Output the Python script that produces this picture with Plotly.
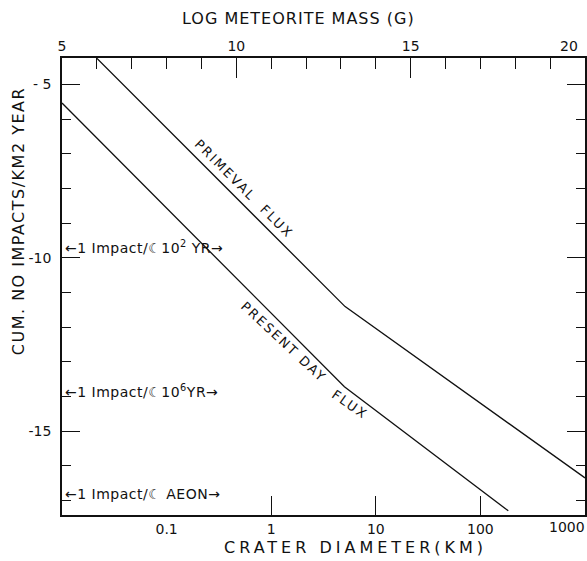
import plotly.graph_objects as go

# ---- data ----
# x values are log meteorite mass (g); y values are log cum. no. impacts / km2 / year
primeval_logm = [6.0, 13.12, 20.0]
primeval_flux = [-4.25, -11.41, -16.35]
present_logm = [5.0, 13.1, 17.8]
present_flux = [-5.54, -13.72, -17.3]

mass_ticks = [5, 10, 15]
mass_ticktext = ["5", "10", "15"]
mass_edge_label = "20"
diam_ticks = [0.1, 1, 10, 100]
diam_ticktext = ["0.1", "1", "10", "100"]
diam_edge_label = "1000"
diam_major = [1, 10, 100]
flux_ticks = [-15, -10, -5]
flux_ticktext = ["-15", "-10", "- 5"]

impact_labels = [
    "←1 Impact/☾10<sup>2</sup> YR→",
    "←1 Impact/☾10<sup>6</sup>YR→",
    "←1 Impact/☾ AEON→",
]
impact_levels = [-9.68, -13.84, -16.81]

X_MASS_RANGE = [5, 20]
X_DIAM_LOGRANGE = [-2.0, 3.0]

FONT = "DejaVu Sans"
INK = "#111111"

fig = go.Figure()
fig.add_trace(go.Scatter(x=primeval_logm, y=primeval_flux, mode="lines",
                         line=dict(color=INK, width=1.3), showlegend=False))
fig.add_trace(go.Scatter(x=present_logm, y=present_flux, mode="lines",
                         line=dict(color=INK, width=1.3), showlegend=False))
# invisible traces to activate the bottom (crater diameter) axes
fig.add_trace(go.Scatter(x=[1], y=[-10], xaxis="x2", mode="markers",
                         marker=dict(opacity=0), showlegend=False, hoverinfo="skip"))
fig.add_trace(go.Scatter(x=[1], y=[-10], xaxis="x3", mode="markers",
                         marker=dict(opacity=0), showlegend=False, hoverinfo="skip"))

axis_common = dict(showgrid=False, zeroline=False, linecolor=INK, tickcolor=INK,
                   automargin=False,
                   tickfont=dict(family=FONT, size=14, color=INK))

fig.update_layout(
    width=587, height=561,
    margin=dict(l=62, r=2, t=58, b=46),
    paper_bgcolor="white", plot_bgcolor="white",
    font=dict(family=FONT, color=INK),
    xaxis=dict(**axis_common, side="top", range=X_MASS_RANGE,
               tickmode="array", tickvals=mass_ticks, ticktext=mass_ticktext,
               ticks="inside", ticklen=20, tickwidth=1.3,
               showline=True, linewidth=1.5,
               minor=dict(dtick=1, ticks="inside", ticklen=11, tickwidth=1.2,
                          tickcolor=INK, showgrid=False)),
    xaxis2=dict(**axis_common, overlaying="x", side="bottom", type="log",
                range=X_DIAM_LOGRANGE, tickmode="array", tickvals=diam_ticks,
                ticktext=diam_ticktext, ticks="", showline=True, linewidth=1.5),
    xaxis3=dict(**axis_common, overlaying="x", side="bottom", type="log",
                range=X_DIAM_LOGRANGE, tickmode="array", tickvals=diam_major,
                showticklabels=False, ticks="inside", ticklen=19, tickwidth=1.3,
                showline=False),
    yaxis=dict(**axis_common, range=[-17.42, -4.24], tickmode="array",
               tickvals=flux_ticks, ticktext=flux_ticktext,
               ticks="inside", ticklen=18, tickwidth=1.3,
               showline=True, linewidth=1.5, mirror="ticks",
               ticklabelstandoff=6,
               minor=dict(dtick=1, ticks="inside", ticklen=9, tickwidth=1.2,
                          tickcolor=INK, showgrid=False)),
)

annotations = [
    dict(text="<span style='letter-spacing:1px'>LOG METEORITE MASS (G)</span>",
         xref="paper", yref="paper", x=0.453, y=1.0875,
         xanchor="center", yanchor="middle", showarrow=False,
         font=dict(size=16, family=FONT)),
    dict(text="<span style='letter-spacing:4px'>CRATER DIAMETER(KM)</span>",
         xref="paper", yref="paper", x=0.562, y=-0.072,
         xanchor="center", yanchor="middle", showarrow=False,
         font=dict(size=16, family=FONT)),
    dict(text="<span style='letter-spacing:1.5px'>CUM. NO IMPACTS/KM2 YEAR</span>",
         xref="paper", yref="paper", x=-0.084, y=0.643,
         xanchor="center", yanchor="middle", textangle=-90, showarrow=False,
         font=dict(size=16, family=FONT)),
    # axis-end labels, lettered just inside the frame as in the original
    dict(text=mass_edge_label, xref="x", yref="paper", x=X_MASS_RANGE[1], y=1.026,
         xanchor="center", yanchor="middle", xshift=-16, showarrow=False,
         font=dict(size=14, family=FONT)),
    dict(text=diam_edge_label, xref="x2", yref="paper", x=X_DIAM_LOGRANGE[1], y=-0.027,
         xanchor="center", yanchor="middle", xshift=-18, showarrow=False,
         font=dict(size=14, family=FONT)),
    dict(text="<span style='letter-spacing:2px'>PRIMEVAL  FLUX</span>",
         xref="x", yref="y", x=10.22, y=-7.99, textangle=45, showarrow=False,
         font=dict(size=13, family=FONT)),
    dict(text="<span style='letter-spacing:2px'>PRESENT DAY</span>",
         xref="x", yref="y", x=11.34, y=-12.43, textangle=43, showarrow=False,
         font=dict(size=13, family=FONT)),
    dict(text="<span style='letter-spacing:2px'>FLUX</span>",
         xref="x", yref="y", x=13.26, y=-14.22, textangle=35, showarrow=False,
         font=dict(size=13, family=FONT)),
]
for txt, lvl in zip(impact_labels, impact_levels):
    annotations.append(dict(text="<span style='letter-spacing:0.5px'>" + txt + "</span>",
                            xref="paper", yref="y", x=0, y=lvl,
                            xanchor="left", yanchor="middle", xshift=1,
                            showarrow=False, font=dict(size=14, family=FONT)))
fig.update_layout(annotations=annotations)

fig.write_html(
    "out.html",
    config={"displayModeBar": False},
    post_script="document.body.style.margin='0px';document.body.style.overflow='hidden';",
)
